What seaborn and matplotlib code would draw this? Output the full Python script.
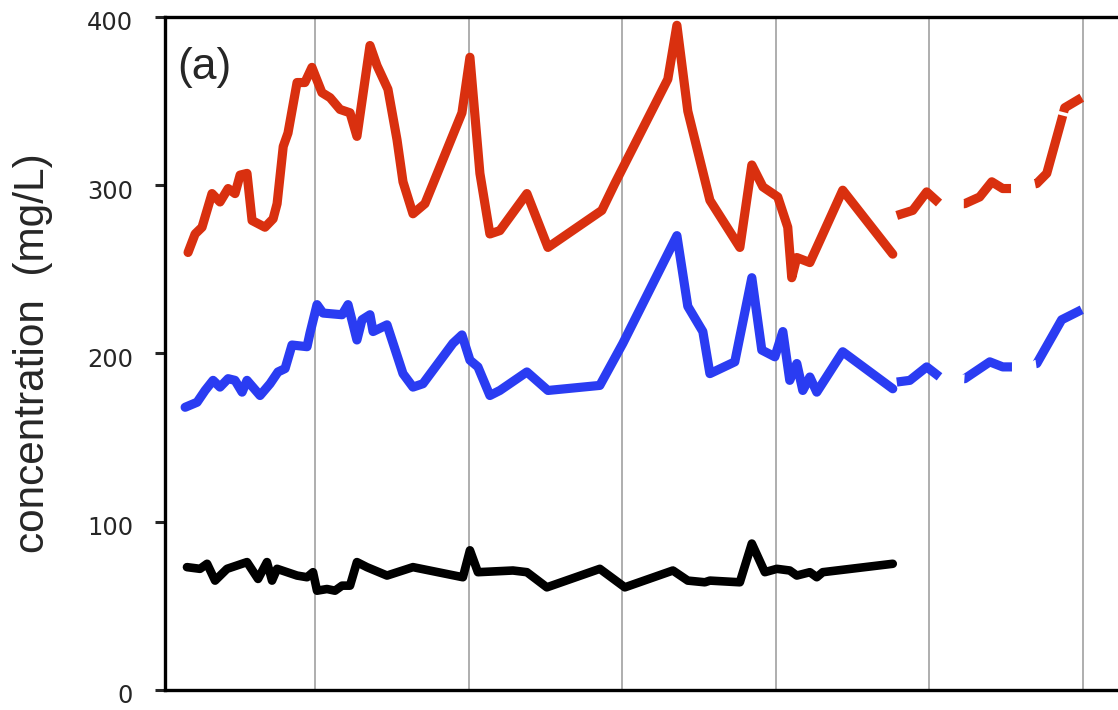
import numpy as np
import pandas as pd
import matplotlib
matplotlib.use("Agg")
import matplotlib.pyplot as plt
import matplotlib.transforms as mtransforms
import seaborn as sns

# red series (solid part)
red_x = [0.173, 0.219, 0.264, 0.329, 0.381, 0.434, 0.479, 0.512, 0.557, 0.590,
         0.674, 0.727, 0.753, 0.793, 0.824, 0.883, 0.934, 0.980, 1.045, 1.098,
         1.163, 1.228, 1.273, 1.358, 1.404, 1.475, 1.534, 1.573, 1.638, 1.716,
         1.957, 2.009, 2.074, 2.139, 2.204, 2.380, 2.517, 2.868, 2.953, 3.298,
         3.357, 3.428, 3.572, 3.767, 3.845, 3.917, 4.014, 4.079, 4.105, 4.138,
         4.223, 4.288, 4.437, 4.763]
red_y = [260, 271, 275, 295, 290, 298, 295, 306, 307, 279,
         275, 280, 289, 323, 331, 361, 361, 370, 355, 352,
         345, 343, 329, 383, 371, 357, 327, 302, 283, 289,
         343, 376, 307, 271, 273, 295, 263, 285, 301, 363,
         395, 344, 291, 263, 312, 299, 293, 275, 245, 257,
         254, 267, 297, 259]
# red series (dashed part)
red_dash_x = [4.789, 4.893, 4.984, 5.069, 5.232, 5.329, 5.408, 5.479, 5.544,
              5.701, 5.766, 5.863, 5.883, 5.994]
red_dash_y = [282, 285, 296, 289, 289, 293, 302, 298, 298, 301, 307, 339, 346, 352]

# blue series
blue_x = [0.154, 0.232, 0.284, 0.336, 0.381, 0.434, 0.479, 0.525, 0.557, 0.642,
          0.707, 0.759, 0.805, 0.850, 0.948, 0.967, 1.013, 1.052, 1.176, 1.215,
          1.273, 1.306, 1.358, 1.378, 1.469, 1.573, 1.638, 1.703, 1.898, 1.957,
          2.009, 2.061, 2.139, 2.204, 2.380, 2.517, 2.855, 3.005, 3.357, 3.428,
          3.526, 3.572, 3.734, 3.845, 3.910, 3.995, 4.047, 4.092, 4.138, 4.177,
          4.223, 4.268, 4.437, 4.763]
blue_y = [168, 171, 178, 184, 180, 185, 184, 177, 184, 175,
          182, 189, 191, 205, 204, 212, 229, 224, 223, 229,
          208, 220, 223, 213, 217, 188, 180, 182, 206, 211,
          196, 192, 175, 178, 189, 178, 181, 206, 270, 228,
          213, 188, 195, 245, 202, 198, 213, 184, 194, 178,
          186, 177, 201, 179]
blue_dash_x = [4.789, 4.874, 4.984, 5.069, 5.232, 5.395, 5.479, 5.544, 5.701,
               5.863, 5.994]
blue_dash_y = [183, 184, 192, 186, 185, 195, 192, 192, 194, 220, 226]

# black series
black_x = [0.166, 0.251, 0.297, 0.349, 0.427, 0.557, 0.629, 0.687, 0.720, 0.753,
           0.818, 0.883, 0.948, 0.987, 1.013, 1.078, 1.130, 1.176, 1.228, 1.273,
           1.338, 1.469, 1.638, 1.963, 2.009, 2.061, 2.289, 2.380, 2.510, 2.855,
           3.018, 3.331, 3.428, 3.539, 3.572, 3.767, 3.845, 3.930, 4.008, 4.092,
           4.138, 4.223, 4.268, 4.307, 4.763]
black_y = [73, 72, 75, 65, 72, 76, 66, 76, 65, 72,
           70, 68, 67, 70, 59, 60, 59, 62, 62, 76,
           73, 68, 73, 67, 83, 70, 71, 70, 61, 72,
           61, 71, 65, 64, 65, 64, 87, 70, 72, 71,
           68, 70, 67, 70, 75]

y_ticks = [0, 100, 200, 300, 400]
grid_x = [1, 2, 3, 4, 5, 6]

RED = "#d9300f"
BLUE = "#2a3cf2"

sns.set_style("white")
plt.rcParams["font.family"] = ["Liberation Sans", "DejaVu Sans"]

fig = plt.figure(figsize=(11.18, 7.10), dpi=100)
ax = fig.add_axes([0.1476, 0.0282, 0.8524, 0.948])

lw = 6.6
# dash patterns (in linewidth units) tuned to where the gaps fall in the original
red_dash = (0, (6.17, 2.73, 6.31, 2.67, 8.29, 0.38, 3.27, 2.18))
blue_dash = (0, (5.56, 2.73, 5.85, 2.65, 8.72, 2.18))

sns.lineplot(x=red_x, y=red_y, ax=ax, color=RED, linewidth=lw,
             solid_capstyle="round", solid_joinstyle="round", zorder=3)
sns.lineplot(x=red_dash_x, y=red_dash_y, ax=ax, color=RED, linewidth=lw,
             linestyle=red_dash, dash_capstyle="butt",
             dash_joinstyle="round", zorder=3)
sns.lineplot(x=blue_x, y=blue_y, ax=ax, color=BLUE, linewidth=lw,
             solid_capstyle="round", solid_joinstyle="round", zorder=3)
sns.lineplot(x=blue_dash_x, y=blue_dash_y, ax=ax, color=BLUE, linewidth=lw,
             linestyle=blue_dash, dash_capstyle="butt",
             dash_joinstyle="round", zorder=3)
sns.lineplot(x=black_x, y=black_y, ax=ax, color="black", linewidth=6.2,
             solid_capstyle="round", solid_joinstyle="round", zorder=3)

ax.set_xlim(0.023, 6.23)
ax.set_ylim(0, 400)

# vertical grid lines, no x labels
ax.set_xticks(grid_x)
ax.set_xticklabels([])
ax.tick_params(axis="x", length=0)
ax.grid(axis="x", color="#a8a8a8", linewidth=1.3, zorder=1)
ax.grid(axis="y", visible=False)

ax.set_yticks(y_ticks)
ax.tick_params(axis="y", direction="out", length=7.5, width=2.2,
               labelsize=17.4, pad=15.5, left=True)
shift = mtransforms.ScaledTranslation(0, -0.04, fig.dpi_scale_trans)
for lab in ax.get_yticklabels():
    lab.set_fontfamily("DejaVu Sans")
    lab.set_transform(lab.get_transform() + shift)

for side in ["left", "top", "bottom"]:
    ax.spines[side].set_linewidth(2.4)
    ax.spines[side].set_color("black")
ax.spines["right"].set_visible(False)

ax.set_ylabel("concentration  (mg/L)", fontsize=30.5)
ax.yaxis.set_label_coords(-0.1175, 0.5)
ax.text(0.0126, 0.956, "(a)", transform=ax.transAxes, fontsize=32,
        ha="left", va="top")

fig.savefig("out.png", dpi=100)
